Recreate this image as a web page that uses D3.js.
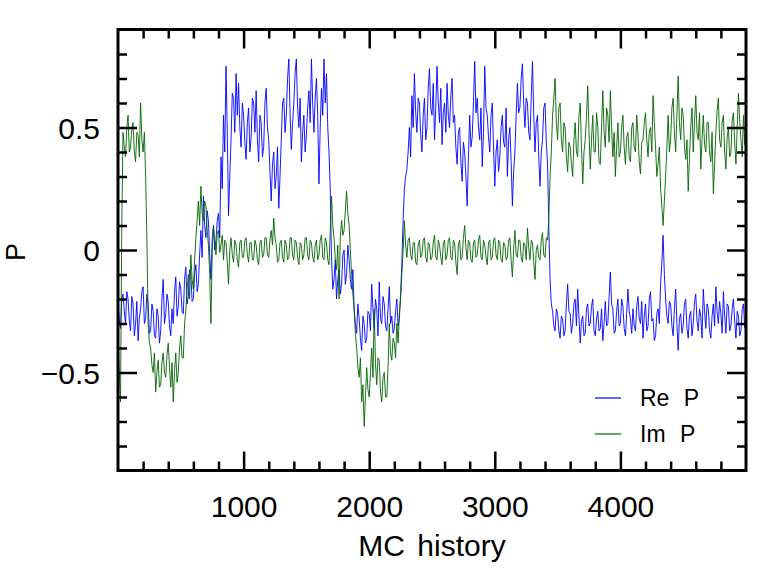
<!DOCTYPE html>
<html>
<head>
<meta charset="utf-8">
<script src="https://cdn.jsdelivr.net/npm/d3@7"></script>
<style>
  html, body { margin: 0; padding: 0; background: #fff; }
  svg text { font-family: "Liberation Sans", "DejaVu Sans", sans-serif; fill: #000; }
</style>
</head>
<body>
<svg id="chart" width="763" height="580"></svg>
<script>
// MC history sampled every 10 steps (0 .. 5000)
var step = 10;

// Re P (blue), 10 values per row = 100 MC steps
var reP = [
  -0.22, -0.28, -0.32, -0.20, -0.18, -0.25, -0.30, -0.17, -0.20, -0.29,
  -0.33, -0.19, -0.22, -0.35, -0.30, -0.21, -0.37, -0.28, -0.24, -0.17,
  -0.15, -0.30, -0.28, -0.18, -0.22, -0.34, -0.33, -0.22, -0.25, -0.35,
  -0.36, -0.24, -0.27, -0.38, -0.33, -0.20, -0.12, -0.30, -0.26, -0.18,
  -0.21, -0.31, -0.35, -0.24, -0.30, -0.17, -0.11, -0.27, -0.23, -0.13,
  -0.16, -0.25, -0.26, -0.12, -0.07, -0.22, -0.19, -0.08, -0.10, -0.21,
  -0.20, -0.10, -0.06, -0.17, -0.14, -0.02, 0.08, -0.03, 0.22, 0.10,
  0.05, 0.16, 0.12, -0.02, -0.12, 0.04, 0.10, 0.00, 0.04, 0.12,
  0.15, 0.05, 0.38, 0.25, 0.55, 0.40, 0.75, 0.48, 0.14, 0.30,
  0.45, 0.64, 0.62, 0.48, 0.72, 0.55, 0.68, 0.50, 0.42, 0.60,
  0.55, 0.44, 0.37, 0.52, 0.58, 0.40, 0.46, 0.62, 0.60, 0.48,
  0.65, 0.45, 0.36, 0.55, 0.52, 0.38, 0.42, 0.60, 0.66, 0.50,
  0.45, 0.32, 0.20, 0.35, 0.40, 0.25, 0.30, 0.42, 0.17, 0.30,
  0.45, 0.60, 0.62, 0.48, 0.55, 0.70, 0.78, 0.56, 0.41, 0.52,
  0.60, 0.72, 0.78, 0.58, 0.50, 0.62, 0.36, 0.48, 0.55, 0.40,
  0.47, 0.58, 0.65, 0.52, 0.78, 0.60, 0.48, 0.62, 0.70, 0.55,
  0.27, 0.50, 0.66, 0.55, 0.78, 0.60, 0.72, 0.50, 0.40, 0.25,
  -0.03, -0.16, -0.12, -0.04, -0.20, -0.12, -0.08, -0.18, -0.14, -0.02,
  0.00, -0.14, -0.10, 0.02, -0.04, -0.12, -0.16, -0.08, -0.24, -0.30,
  -0.34, -0.22, -0.28, -0.36, -0.41, -0.27, -0.30, -0.38, -0.36, -0.25,
  -0.26, -0.33, -0.14, -0.24, -0.32, -0.20, -0.24, -0.35, -0.13, -0.28,
  -0.30, -0.19, -0.22, -0.31, -0.33, -0.24, -0.15, -0.30, -0.27, -0.34,
  -0.32, -0.25, -0.20, -0.31, -0.28, -0.18, -0.05, 0.12, 0.25, 0.30,
  0.33, 0.40, 0.50, 0.38, 0.63, 0.50, 0.72, 0.56, 0.48, 0.62,
  0.60, 0.47, 0.40, 0.55, 0.62, 0.45, 0.50, 0.66, 0.74, 0.58,
  0.55, 0.68, 0.45, 0.58, 0.75, 0.60, 0.52, 0.66, 0.43, 0.56,
  0.60, 0.48, 0.68, 0.55, 0.50, 0.63, 0.70, 0.52, 0.55, 0.42,
  0.35, 0.48, 0.50, 0.36, 0.28, 0.44, 0.40, 0.30, 0.18, 0.38,
  0.55, 0.42, 0.46, 0.60, 0.77, 0.56, 0.62, 0.50, 0.45, 0.58,
  0.34, 0.48, 0.75, 0.58, 0.55, 0.46, 0.40, 0.55, 0.60, 0.42,
  0.26, 0.40, 0.45, 0.32, 0.38, 0.50, 0.55, 0.44, 0.42, 0.58,
  0.30, 0.45, 0.50, 0.36, 0.18, 0.32, 0.40, 0.55, 0.68, 0.56,
  0.58, 0.70, 0.76, 0.60, 0.50, 0.62, 0.60, 0.48, 0.45, 0.62,
  0.77, 0.55, 0.40, 0.52, 0.55, 0.38, 0.26, 0.40, 0.45, 0.58,
  0.60, 0.44, 0.35, 0.10, -0.12, -0.22, -0.25, -0.31, -0.33, -0.24,
  -0.26, -0.33, -0.36, -0.27, -0.28, -0.35, -0.33, -0.22, -0.14, -0.25,
  -0.26, -0.34, -0.30, -0.22, -0.20, -0.31, -0.16, -0.27, -0.38, -0.29,
  -0.27, -0.35, -0.34, -0.24, -0.22, -0.31, -0.30, -0.23, -0.20, -0.33,
  -0.35, -0.28, -0.25, -0.33, -0.32, -0.24, -0.37, -0.30, -0.21, -0.31,
  -0.30, -0.19, -0.09, -0.22, -0.24, -0.34, -0.33, -0.25, -0.20, -0.31,
  -0.30, -0.20, -0.23, -0.32, -0.35, -0.26, -0.16, -0.25, -0.28, -0.34,
  -0.24, -0.31, -0.33, -0.23, -0.19, -0.28, -0.30, -0.21, -0.36, -0.27,
  -0.22, -0.33, -0.31, -0.20, -0.17, -0.29, -0.28, -0.37, -0.35, -0.26,
  -0.24, -0.30, -0.14, -0.05, 0.06, -0.10, -0.20, -0.27, -0.30, -0.21,
  -0.22, -0.31, -0.35, -0.24, -0.16, -0.30, -0.41, -0.28, -0.26, -0.34,
  -0.31, -0.22, -0.20, -0.32, -0.36, -0.27, -0.25, -0.35, -0.30, -0.21,
  -0.18, -0.29, -0.33, -0.24, -0.27, -0.36, -0.16, -0.25, -0.32, -0.22,
  -0.24, -0.33, -0.36, -0.27, -0.22, -0.31, -0.15, -0.25, -0.30, -0.21,
  -0.26, -0.34, -0.17, -0.27, -0.34, -0.22, -0.23, -0.33, -0.31, -0.24,
  -0.20, -0.29, -0.36, -0.25, -0.27, -0.35, -0.33, -0.24, -0.22, -0.32,
  -0.30
];

// Im P (green), same sampling
var imP = [
  -0.35, -0.50, -0.62, 0.10, 0.48, 0.42, 0.38, 0.50, 0.55, 0.40,
  0.42, 0.50, 0.52, 0.40, 0.36, 0.48, 0.47, 0.38, 0.60, 0.45,
  0.40, 0.48, 0.30, 0.05, -0.30, -0.38, -0.40, -0.47, -0.50, -0.42,
  -0.58, -0.50, -0.45, -0.56, -0.55, -0.46, -0.42, -0.50, -0.52, -0.43,
  -0.38, -0.48, -0.56, -0.46, -0.62, -0.50, -0.42, -0.54, -0.50, -0.40,
  -0.35, -0.44, -0.44, -0.30, -0.25, -0.16, -0.10, -0.20, -0.02, -0.12,
  -0.16, -0.04, 0.05, 0.12, 0.20, 0.10, 0.26, 0.15, 0.12, 0.20,
  0.18, 0.08, 0.02, -0.10, -0.30, 0.00, 0.10, 0.03, -0.02, 0.07,
  0.08, -0.01, 0.02, 0.06, -0.04, 0.04, 0.03, -0.05, -0.14, 0.00,
  0.05, -0.02, -0.05, 0.04, 0.02, -0.04, -0.07, 0.03, 0.04, -0.03,
  -0.03, 0.04, 0.05, -0.02, -0.05, 0.03, 0.03, -0.04, -0.04, 0.04,
  0.02, -0.04, -0.06, 0.03, 0.04, -0.03, -0.02, 0.05, 0.05, -0.02,
  -0.03, 0.04, 0.08, 0.02, 0.13, 0.05, 0.02, -0.05, -0.04, 0.03,
  0.04, -0.03, -0.05, 0.04, 0.02, -0.04, -0.03, 0.05, 0.05, -0.02,
  -0.04, 0.04, 0.03, -0.03, -0.06, 0.03, 0.02, -0.04, -0.02, 0.05,
  0.05, -0.02, -0.04, 0.04, 0.03, -0.03, -0.05, 0.02, 0.04, -0.04,
  -0.02, 0.04, 0.06, -0.03, -0.04, 0.05, 0.03, -0.04, -0.06, 0.08,
  0.22, 0.10, 0.05, -0.04, -0.08, 0.02, -0.20, 0.05, 0.12, 0.06,
  0.08, 0.16, 0.24, 0.15, 0.10, 0.00, -0.10, -0.18, -0.24, -0.34,
  -0.40, -0.48, -0.52, -0.44, -0.62, -0.55, -0.72, -0.60, -0.48, -0.57,
  -0.60, -0.50, -0.40, -0.52, -0.24, -0.46, -0.55, -0.44, -0.45, -0.58,
  -0.62, -0.52, -0.50, -0.60, -0.60, -0.48, -0.30, -0.42, -0.45, -0.36,
  -0.38, -0.44, -0.30, -0.38, -0.26, -0.20, -0.10, 0.00, 0.12, 0.02,
  -0.03, 0.04, 0.05, -0.02, -0.04, 0.03, 0.03, -0.05, -0.06, 0.02,
  0.04, -0.03, -0.02, 0.04, 0.05, -0.03, -0.05, 0.03, 0.02, -0.04,
  -0.03, 0.03, 0.06, -0.03, -0.04, 0.04, 0.02, -0.03, -0.06, 0.03,
  0.04, -0.04, -0.02, 0.04, 0.05, -0.03, -0.04, 0.04, 0.03, -0.05,
  -0.10, 0.02, 0.04, -0.04, -0.03, 0.05, 0.10, 0.01, -0.04, 0.04,
  0.03, -0.04, -0.05, 0.03, 0.04, -0.03, -0.02, 0.04, 0.06, -0.03,
  -0.04, 0.04, 0.02, -0.03, -0.06, 0.03, 0.04, -0.04, -0.03, 0.04,
  0.05, -0.02, -0.04, 0.04, 0.03, -0.04, -0.05, 0.03, 0.02, -0.04,
  -0.03, 0.04, 0.05, -0.04, -0.11, 0.00, 0.08, -0.02, -0.03, 0.04,
  0.04, -0.03, -0.05, 0.03, 0.02, -0.04, 0.09, 0.01, -0.04, 0.04,
  0.03, -0.05, -0.12, 0.00, 0.02, -0.03, -0.04, 0.04, 0.07, -0.02,
  -0.03, 0.05, 0.04, 0.13, 0.30, 0.40, 0.55, 0.62, 0.70, 0.52,
  0.45, 0.58, 0.60, 0.45, 0.40, 0.52, 0.50, 0.38, 0.32, 0.44,
  0.42, 0.35, 0.30, 0.45, 0.52, 0.40, 0.38, 0.55, 0.60, 0.42,
  0.27, 0.40, 0.45, 0.55, 0.67, 0.48, 0.33, 0.45, 0.55, 0.40,
  0.40, 0.56, 0.50, 0.36, 0.35, 0.50, 0.65, 0.48, 0.42, 0.58,
  0.55, 0.44, 0.65, 0.50, 0.38, 0.48, 0.30, 0.42, 0.52, 0.38,
  0.40, 0.50, 0.55, 0.42, 0.35, 0.46, 0.48, 0.38, 0.36, 0.50,
  0.52, 0.42, 0.40, 0.55, 0.47, 0.36, 0.31, 0.44, 0.45, 0.52,
  0.56, 0.45, 0.38, 0.48, 0.50, 0.40, 0.63, 0.52, 0.42, 0.30,
  0.35, 0.42, 0.25, 0.18, 0.10, 0.20, 0.30, 0.42, 0.55, 0.40,
  0.45, 0.58, 0.62, 0.48, 0.40, 0.55, 0.71, 0.52, 0.45, 0.58,
  0.55, 0.42, 0.37, 0.45, 0.24, 0.38, 0.50, 0.58, 0.40, 0.52,
  0.63, 0.48, 0.45, 0.56, 0.33, 0.45, 0.55, 0.43, 0.40, 0.52,
  0.52, 0.40, 0.36, 0.48, 0.23, 0.35, 0.48, 0.57, 0.62, 0.45,
  0.42, 0.52, 0.55, 0.40, 0.33, 0.46, 0.50, 0.38, 0.40, 0.53,
  0.56, 0.44, 0.35, 0.50, 0.64, 0.52, 0.45, 0.38, 0.55, 0.43,
  0.48
];

var seriesNames = ["Re P", "Im P"];
var seriesColors = ["#0000ff", "#006400"];

var xMajor = [1000, 2000, 3000, 4000];
var yMajor = [-0.5, 0, 0.5];
var xMinor = [200, 400, 600, 800, 1200, 1400, 1600, 1800, 2200, 2400, 2600, 2800,
              3200, 3400, 3600, 3800, 4200, 4400, 4600, 4800];
var yMinor = [-0.8, -0.7, -0.6, -0.4, -0.3, -0.2, -0.1, 0.1, 0.2, 0.3, 0.4, 0.6, 0.7, 0.8];

var svg = d3.select("#chart");
var plotL = 118, plotR = 746, plotT = 29.5, plotB = 470.5;

var x = d3.scaleLinear().domain([0, 5000]).range([plotL, plotR]);
var y = d3.scaleLinear().domain([-0.9, 0.9]).range([plotB, plotT]);

var line = d3.line()
    .x(function(d, i) { return x(i * step); })
    .y(function(d) { return y(d); });

var plot = svg.append("g");
[reP, imP].forEach(function(data, k) {
    plot.append("path")
        .attr("d", line(data))
        .attr("fill", "none")
        .attr("stroke", seriesColors[k])
        .attr("stroke-width", 0.9)
        .attr("stroke-linejoin", "round");
});

// ticks on all four sides, pointing inwards
function addAxis(axisFn, scale, transform, majors, minors, labels) {
    var major = svg.append("g").attr("transform", transform)
        .call(axisFn(scale).tickValues(majors).tickSize(-19).tickPadding(labels ? 18 : 0)
            .tickFormat(labels ? d3.format("~g") : ""));
    var minor = svg.append("g").attr("transform", transform)
        .call(axisFn(scale).tickValues(minors).tickSize(-9).tickFormat(""));
    [major, minor].forEach(function(g) {
        g.select(".domain").remove();
        g.selectAll("line").attr("stroke", "#000").attr("stroke-width", 2.5);
    });
    major.selectAll("text").attr("font-size", 30).style("font-family", "Liberation Sans, DejaVu Sans, sans-serif");
    return major;
}

var xb = addAxis(d3.axisBottom, x, "translate(0," + plotB + ")", xMajor, xMinor, true);
xb.selectAll("text").attr("dy", "0.95em");
addAxis(d3.axisTop, x, "translate(0," + plotT + ")", xMajor, xMinor, false);
var yl = addAxis(d3.axisLeft, y, "translate(" + plotL + ",0)", yMajor, yMinor, true);
yl.selectAll("text").attr("dy", "0.35em");
addAxis(d3.axisRight, y, "translate(" + plotR + ",0)", yMajor, yMinor, false);

svg.append("rect")
    .attr("x", plotL).attr("y", plotT)
    .attr("width", plotR - plotL).attr("height", plotB - plotT)
    .attr("fill", "none").attr("stroke", "#000").attr("stroke-width", 3);

svg.append("text")
    .attr("x", (plotL + plotR) / 2).attr("y", 556)
    .attr("text-anchor", "middle").attr("font-size", 30).attr("word-spacing", "4px")
    .text("MC history");

svg.append("text")
    .attr("transform", "translate(25,252) rotate(-90)")
    .attr("text-anchor", "middle").attr("font-size", 27)
    .text("P");

// legend
var legend = svg.append("g");
seriesNames.forEach(function(name, k) {
    var ly = 398 + k * 36;
    legend.append("line")
        .attr("x1", 595).attr("x2", 621).attr("y1", ly).attr("y2", ly)
        .attr("stroke", seriesColors[k]).attr("stroke-width", 1.2);
    legend.append("text")
        .attr("x", 640).attr("y", ly + 8)
        .attr("font-size", 23).attr("word-spacing", "8px")
        .text(name);
});
</script>
</body>
</html>
